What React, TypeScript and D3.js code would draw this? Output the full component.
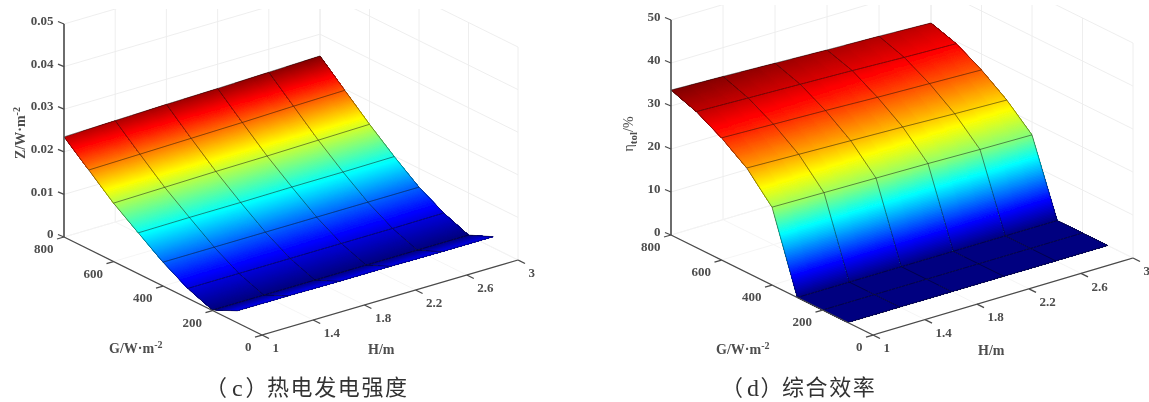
import React, { useRef, useEffect } from "react";
import * as d3 from "d3";

// Surface values, rows run from G=800 down to G=100,
// columns follow hValues.
const gValues = [800, 700, 600, 500, 400, 300, 200, 100];
const hValues = [1, 1.4, 1.8, 2.2, 2.6, 3];

const powerRows = [
  [0.0235, 0.0238, 0.0241, 0.0243, 0.0246, 0.0249],
  [0.0186, 0.0188, 0.019, 0.0192, 0.0195, 0.0197],
  [0.0137, 0.0139, 0.0141, 0.0142, 0.0144, 0.0146],
  [0.0096, 0.0097, 0.0097, 0.0098, 0.0098, 0.0099],
  [0.0056, 0.0056, 0.0056, 0.0056, 0.0056, 0.0056],
  [0.0023, 0.0023, 0.0023, 0.0023, 0.0023, 0.0024],
  [0.0001, 0.0001, 0.0001, 0.0001, 0.0001, 0.0001],
  [0.0028, 0.0028, 0.0027, 0.0027, 0.0026, 0.0026],
];

const efficiencyRows = [
  [33.7, 33.3, 32.8, 32.3, 31.9, 31.4],
  [31.6, 31.2, 30.8, 30.4, 29.9, 29.5],
  [28.4, 28.0, 27.6, 27.1, 26.7, 26.3],
  [24.3, 23.9, 23.5, 23.1, 22.6, 22.2],
  [18.1, 17.9, 17.7, 17.5, 17.2, 17.0],
  [0, 0, 0, 0, 0, 0],
  [0, 0, 0, 0, 0, 0],
  [0, 0, 0, 0, 0, 0],
];

const gTicks = [0, 200, 400, 600, 800];
const hTicks = [1, 1.4, 1.8, 2.2, 2.6, 3];
const powerTicks = [0, 0.01, 0.02, 0.03, 0.04, 0.05];
const efficiencyTicks = [0, 10, 20, 30, 40, 50];

const FONT = "'Liberation Serif', serif";
const CJK_FONT = "'Noto Sans CJK SC', sans-serif";
const AXIS_COLOR = "#4a4a4a";
const TEXT_COLOR = "#4d4d4d";

const jet = (t: number) => {
  const c = (v: number) => Math.round(255 * Math.max(0, Math.min(1, v)));
  return `rgb(${c(1.5 - Math.abs(4 * t - 3))},${c(1.5 - Math.abs(4 * t - 2))},${c(1.5 - Math.abs(4 * t - 1))})`;
};

function drawPanel(root: any, p: any) {
  const g = root.append("g");

  const clipId = `clip-${p.id}`;
  g.append("clipPath").attr("id", clipId)
    .append("rect").attr("x", 0).attr("y", p.clipTop).attr("width", 1149).attr("height", 402);

  // oblique projection, one linear scale per screen component
  const xG = d3.scaleLinear().domain([0, 800]).range([0, p.gVec[0]]);
  const yG = d3.scaleLinear().domain([0, 800]).range([0, p.gVec[1]]);
  const xH = d3.scaleLinear().domain([1, 3]).range([0, p.hVec[0]]);
  const yH = d3.scaleLinear().domain([1, 3]).range([0, p.hVec[1]]);
  const zS = d3.scaleLinear().domain([0, p.zMax]).range([0, p.zPx]);
  const project = (gv: number, hv: number, zv: number): [number, number] => [
    p.origin[0] + xG(gv) + xH(hv),
    p.origin[1] + yG(gv) + yH(hv) - zS(zv),
  ];
  const line = d3.line();
  const seg = (sel: any, a: [number, number], b: [number, number]) =>
    sel.append("path").attr("d", line([a, b]));

  // walls and floor
  const grid = g.append("g")
    .attr("clip-path", `url(#${clipId})`)
    .attr("fill", "none").attr("stroke", "#ececec").attr("stroke-width", 0.9);
  p.zTicks.forEach((z: number) => {
    seg(grid, project(800, 1, z), project(800, 3, z));
    seg(grid, project(800, 3, z), project(0, 3, z));
  });
  hTicks.forEach((h) => {
    seg(grid, project(800, h, 0), project(800, h, p.zMax));
    seg(grid, project(0, h, 0), project(800, h, 0)).attr("stroke", "#f4f4f4");
  });
  gTicks.forEach((gv) => {
    seg(grid, project(gv, 3, 0), project(gv, 3, p.zMax));
    seg(grid, project(gv, 1, 0), project(gv, 3, 0)).attr("stroke", "#f4f4f4");
  });

  // surface, shaded like MATLAB's interp. Each piece runs on to the far corner of
  // its mesh cell and the next piece paints over it, so no seams show between them.
  const flat = p.rows.flat();
  const color = d3.scaleSequential(jet).domain([d3.min(flat) as number, d3.max(flat) as number]);
  const surface = g.append("g");
  const subG = 60;
  const subH = 3;
  for (let r = 0; r < gValues.length - 1; r++) {
    for (let c = 0; c < hValues.length - 1; c++) {
      const corner = (u: number, v: number) => {
        const top = p.rows[r][c] + (p.rows[r][c + 1] - p.rows[r][c]) * v;
        const bot = p.rows[r + 1][c] + (p.rows[r + 1][c + 1] - p.rows[r + 1][c]) * v;
        const gv = gValues[r] + (gValues[r + 1] - gValues[r]) * u;
        const hv = hValues[c] + (hValues[c + 1] - hValues[c]) * v;
        return { z: top + (bot - top) * u, pt: project(gv, hv, top + (bot - top) * u) };
      };
      for (let i = 0; i < subG; i++) {
        for (let j = 0; j < subH; j++) {
          const mid = corner((i + 0.5) / subG, (j + 0.5) / subH);
          const a = corner(i / subG, j / subH);
          const b = corner(i / subG, 1);
          const d = corner(1, 1);
          const e = corner(1, j / subH);
          surface.append("path")
            .attr("d", line([a.pt, b.pt, d.pt, e.pt]) + "Z")
            .attr("fill", color(mid.z));
        }
      }
    }
  }

  // mesh lines
  const mesh = g.append("g")
    .attr("fill", "none").attr("stroke", "#111").attr("stroke-opacity", 0.62).attr("stroke-width", 0.8);
  gValues.forEach((gv, r) => {
    mesh.append("path").attr("d", line(hValues.map((h, c) => project(gv, h, p.rows[r][c]))));
  });
  hValues.forEach((h, c) => {
    mesh.append("path").attr("d", line(gValues.map((gv, r) => project(gv, h, p.rows[r][c]))));
  });

  // axes and ticks
  const axes = g.append("g").attr("fill", "none").attr("stroke", AXIS_COLOR).attr("stroke-width", 1.3);
  seg(axes, project(800, 1, 0), project(800, 1, p.zMax)).attr("stroke-width", 1.6);
  seg(axes, project(800, 1, 0), project(0, 1, 0));
  seg(axes, project(0, 1, 0), project(0, 3, 0));
  const text = g.append("g")
    .attr("font-family", FONT).attr("font-weight", "bold").attr("font-size", 13).attr("fill", TEXT_COLOR);
  const addText = (x: number, y: number, s: string, anchor: string) =>
    text.append("text").attr("x", x).attr("y", y).attr("text-anchor", anchor).attr("dy", "0.33em").text(s);

  p.zTicks.forEach((z: number, i: number) => {
    const [x, y] = project(800, 1, z);
    seg(axes, [x, y], [x - 6, y - 2.5]);
    addText(x - 10.5, y - 3, p.zLabels[i], "end");
  });
  gTicks.forEach((gv) => {
    const [x, y] = project(gv, 1, 0);
    seg(axes, [x, y], [x - 7, y + 2]);
    addText(x - 10.5, y + 12, String(gv), "end");
  });
  hTicks.forEach((h) => {
    const [x, y] = project(0, h, 0);
    seg(axes, [x, y], [x + 7, y + 3.5]);
    addText(x + 10.5, y + 13, String(h), "start");
  });

  // axis titles
  const title = text.append("text").attr("font-size", 14);
  title.attr("x", p.gTitle[0]).attr("y", p.gTitle[1]).attr("dy", "0.33em");
  title.append("tspan").text("G/W·m");
  title.append("tspan").attr("dy", -5).attr("font-size", 10).text("-2");

  addText(p.hTitle[0], p.hTitle[1], "H/m", "start").attr("font-size", 14);

  const yTitle = text.append("text")
    .attr("font-size", 14).attr("text-anchor", "middle")
    .attr("transform", `translate(${p.zTitle[0]},${p.zTitle[1]}) rotate(-90)`);
  p.zTitleParts.forEach((t: any) => {
    const span = yTitle.append("tspan").text(t.s);
    if (t.dy) span.attr("dy", t.dy);
    if (t.size) span.attr("font-size", t.size);
    if (t.weight) span.attr("font-weight", t.weight);
  });

  // caption, pieces placed one by one because the Latin tag sits in a serif face
  const cap = g.append("g").attr("fill", "#333").attr("font-family", CJK_FONT).attr("font-size", 22);
  const capY = 387;
  cap.append("text").attr("x", p.caption.open).attr("y", capY).attr("dy", "0.36em").text("（");
  cap.append("text").attr("x", p.caption.tag).attr("y", capY).attr("dy", "0.36em")
    .attr("font-family", FONT).attr("font-size", 24).text(p.caption.tagText);
  cap.append("text").attr("x", p.caption.close).attr("y", capY).attr("dy", "0.36em").text("）");
  cap.append("text").attr("x", p.caption.body).attr("y", capY).attr("dy", "0.36em")
    .attr("letter-spacing", 1.6).text(p.caption.bodyText);
}

export default function App() {
  const svgRef = useRef<SVGSVGElement>(null);

  useEffect(() => {
    const svg = d3.select(svgRef.current);
    svg.selectAll("*").remove();

    // the source is a soft raster scan, a small blur brings the look closer
    const defs = svg.append("defs");
    defs.append("filter").attr("id", "soft")
      .attr("filterUnits", "userSpaceOnUse")
      .attr("x", 0).attr("y", 0).attr("width", 1149).attr("height", 402)
      .append("feGaussianBlur").attr("stdDeviation", 0.55);

    const root = svg.append("g").attr("filter", "url(#soft)");

    drawPanel(root, {
      id: "c",
      origin: [262, 335], gVec: [-198, -98], hVec: [256, -75], zPx: 213, zMax: 0.05,
      clipTop: 9,
      rows: powerRows,
      zTicks: powerTicks,
      zLabels: ["0", "0.01", "0.02", "0.03", "0.04", "0.05"],
      gTitle: [109, 348], hTitle: [368, 349], zTitle: [25, 133],
      zTitleParts: [{ s: "Z/W·m" }, { s: "-2", dy: -5, size: 10 }],
      caption: { open: 205, tag: 232, tagText: "c", close: 245.5, body: 267, bodyText: "热电发电强度" },
    });

    drawPanel(root, {
      id: "d",
      origin: [873, 335], gVec: [-202, -100], hVec: [260, -77], zPx: 215, zMax: 50,
      clipTop: 5,
      rows: efficiencyRows,
      zTicks: efficiencyTicks,
      zLabels: ["0", "10", "20", "30", "40", "50"],
      gTitle: [716, 349], hTitle: [978, 350], zTitle: [633, 134],
      zTitleParts: [
        { s: "η", weight: "normal" },
        { s: "tol", dy: 4, size: 11 },
        { s: "/%", dy: -4, weight: "normal" },
      ],
      caption: { open: 721, tag: 747, tagText: "d", close: 760.5, body: 782, bodyText: "综合效率" },
    });
  }, []);

  return (
    <svg
      ref={svgRef}
      width={1149}
      height={402}
      style={{ position: "absolute", left: 0, top: 0, background: "#fff" }}
    />
  );
}
